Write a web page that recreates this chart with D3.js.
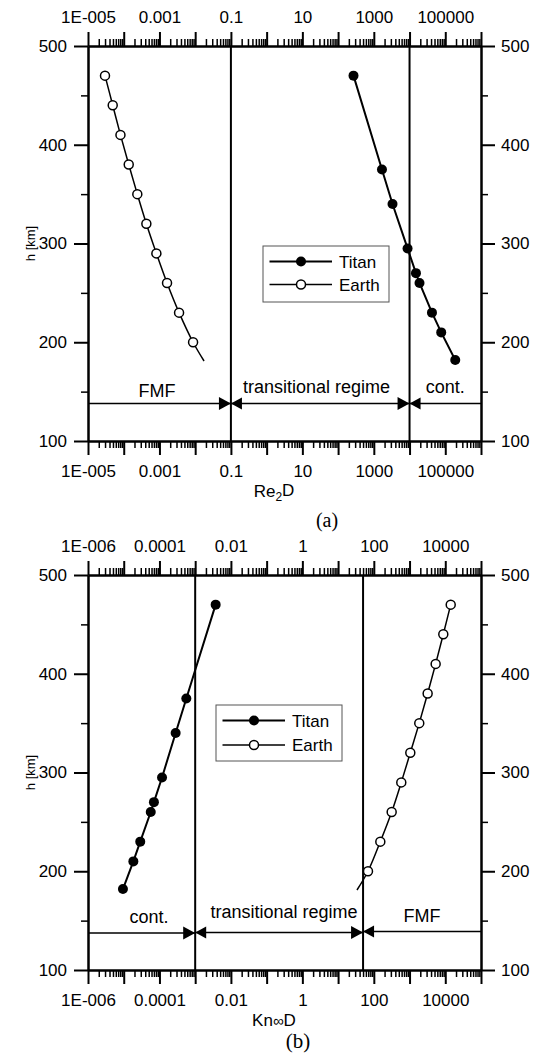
<!DOCTYPE html>
<html>
<head>
<meta charset="utf-8">
<script src="https://cdn.jsdelivr.net/npm/d3@7"></script>
<style>
  body { margin: 0; background: #fff; }
  svg { display: block; }
  .axis path, .axis line { stroke: #000; stroke-width: 2; }
  .axis.minor line { stroke-width: 1.5; }
  .axis text { fill: #000; }
</style>
</head>
<body>
<svg id="chart"></svg>
<script>
const SVG_WIDTH = 535;
const SVG_HEIGHT = 1056;
const FONT = '"Liberation Sans", Arial, sans-serif';

// heights of the points [km]
const TITAN_H = [470, 375, 340, 295, 270, 260, 230, 210, 182];
const EARTH_H = [470, 440, 410, 380, 350, 320, 290, 260, 230, 200];

// panel (a): Re2D
const TITAN_RE = [270, 1690, 3340, 8800, 15100, 19000, 42400, 77000, 190000];
const EARTH_RE = [2.99e-5, 4.92e-5, 8.1e-5, 1.38e-4, 2.4e-4, 4.3e-4, 8.2e-4, 1.63e-3, 3.54e-3, 8.73e-3];
const EARTH_RE_TAIL = { v: 0.0177, h: 181 };
const RE_BOUNDS = [0.1, 1e4];
const RE_TICKS = [1e-5, 1e-3, 0.1, 10, 1e3, 1e5];
const RE_TICK_LABELS = ['1E-005', '0.001', '0.1', '10', '1000', '100000'];
const RE_REGIMES = ['FMF', 'transitional regime', 'cont.'];

// panel (b): Kn∞D
const TITAN_KN = [3.74e-3, 5.65e-4, 2.84e-4, 1.18e-4, 7.0e-5, 5.7e-5, 2.9e-5, 1.86e-5, 9.5e-6];
const EARTH_KN = [1.42e4, 8.8e3, 5.38e3, 3.21e3, 1.87e3, 1.05e3, 587, 316, 152, 68.7];
const EARTH_KN_TAIL = { v: 33.8, h: 181 };
const KN_BOUNDS = [1e-3, 50];
const KN_TICKS = [1e-6, 1e-4, 0.01, 1, 100, 1e4];
const KN_TICK_LABELS = ['1E-006', '0.0001', '0.01', '1', '100', '10000'];
const KN_REGIMES = ['cont.', 'transitional regime', 'FMF'];

const H_TICKS = [100, 200, 300, 400, 500];
const H_MINOR = [150, 250, 350, 450];
const SERIES = ['Titan', 'Earth'];

const svg = d3.select('#chart')
	.attr('width', SVG_WIDTH)
	.attr('height', SVG_HEIGHT)
	.style('font-family', FONT);

svg.append('rect').attr('width', SVG_WIDTH).attr('height', SVG_HEIGHT).attr('fill', '#fff');

function logTicks(domain) {
	const lo = Math.round(Math.log10(domain[0])), hi = Math.round(Math.log10(domain[1]));
	const majors = [], minors = [];
	for (let e = lo; e <= hi; e++) {
		majors.push(Math.pow(10, e));
		if (e < hi) for (let k = 2; k < 10; k++) minors.push(k * Math.pow(10, e));
	}
	return { majors: majors, minors: minors };
}

function styleText(sel) {
	sel.attr('font-size', 17).attr('font-family', FONT);
}

function drawPanel(cfg) {
	const x = d3.scaleLog().domain(cfg.xDomain).range([88, 481]);
	const y = d3.scaleLinear().domain([100, 500]).range([cfg.bottom, cfg.top]);
	const g = svg.append('g');

	const lt = logTicks(cfg.xDomain);
	const label = v => {
		const i = cfg.ticks.findIndex(t => Math.abs(Math.log10(t) - Math.log10(v)) < 1e-9);
		return i < 0 ? '' : cfg.tickLabels[i];
	};

	// X axes, top and bottom
	g.append('g').attr('class', 'axis minor')
		.attr('transform', 'translate(0,' + cfg.top + ')')
		.call(d3.axisTop(x).tickValues(lt.minors).tickSize(7).tickSizeOuter(0).tickFormat(''));
	g.append('g').attr('class', 'axis')
		.attr('transform', 'translate(0,' + cfg.top + ')')
		.call(d3.axisTop(x).tickValues(lt.majors).tickSize(14).tickSizeOuter(0).tickPadding(9).tickFormat(label))
		.call(styleText);
	g.append('g').attr('class', 'axis minor')
		.attr('transform', 'translate(0,' + cfg.bottom + ')')
		.call(d3.axisBottom(x).tickValues(lt.minors).tickSize(7).tickSizeOuter(0).tickFormat(''));
	g.append('g').attr('class', 'axis')
		.attr('transform', 'translate(0,' + cfg.bottom + ')')
		.call(d3.axisBottom(x).tickValues(lt.majors).tickSize(14).tickSizeOuter(0).tickPadding(10).tickFormat(label))
		.call(styleText);

	// Y axes, left and right
	g.append('g').attr('class', 'axis')
		.attr('transform', 'translate(88,0)')
		.call(d3.axisLeft(y).tickValues(H_TICKS).tickSize(14).tickSizeOuter(0).tickPadding(7))
		.call(styleText);
	g.append('g').attr('class', 'axis minor')
		.attr('transform', 'translate(88,0)')
		.call(d3.axisLeft(y).tickValues(H_MINOR).tickSize(7).tickSizeOuter(0).tickFormat(''));
	g.append('g').attr('class', 'axis')
		.attr('transform', 'translate(481,0)')
		.call(d3.axisRight(y).tickValues(H_TICKS).tickSize(14).tickSizeOuter(0).tickPadding(6))
		.call(styleText);
	g.append('g').attr('class', 'axis minor')
		.attr('transform', 'translate(481,0)')
		.call(d3.axisRight(y).tickValues(H_MINOR).tickSize(7).tickSizeOuter(0).tickFormat(''));

	// regime boundaries
	g.selectAll('.bound').data(cfg.bounds).enter().append('line')
		.attr('x1', d => x(d)).attr('x2', d => x(d))
		.attr('y1', cfg.top).attr('y2', cfg.bottom)
		.attr('stroke', '#000').attr('stroke-width', 2);

	// regime arrows
	const edges = [cfg.xDomain[0]].concat(cfg.bounds, [cfg.xDomain[1]]);
	cfg.arrowH.forEach((h, i) => {
		g.append('line')
			.attr('x1', x(edges[i])).attr('x2', x(edges[i + 1]))
			.attr('y1', y(h)).attr('y2', y(h))
			.attr('stroke', '#000').attr('stroke-width', 1.5);
	});
	cfg.bounds.forEach((b, i) => {
		const bx = x(b);
		const yl = y(cfg.arrowH[i]), yr = y(cfg.arrowH[i + 1]);
		g.append('path')
			.attr('d', 'M' + bx + ',' + yl + 'L' + (bx - 12) + ',' + (yl - 6.5) + 'L' + (bx - 12) + ',' + (yl + 6.5) + 'Z')
			.attr('fill', '#000');
		g.append('path')
			.attr('d', 'M' + bx + ',' + yr + 'L' + (bx + 11) + ',' + (yr - 6) + 'L' + (bx + 11) + ',' + (yr + 6) + 'Z')
			.attr('fill', '#000');
	});
	cfg.regimes.forEach((t, i) => {
		g.append('text')
			.attr('x', x(cfg.regimePos[i][0])).attr('y', y(cfg.regimePos[i][1]))
			.attr('text-anchor', 'middle').attr('font-size', 18)
			.text(t);
	});

	// data
	const titan = cfg.titan.map((v, i) => ({ v: v, h: TITAN_H[i] }));
	const earth = cfg.earth.map((v, i) => ({ v: v, h: EARTH_H[i] }));
	const line = d3.line().x(d => x(d.v)).y(d => y(d.h));

	g.append('path')
		.attr('d', line.curve(d3.curveLinear)(titan))
		.attr('fill', 'none').attr('stroke', '#000').attr('stroke-width', 2);
	g.append('path')
		.attr('d', line.curve(d3.curveCatmullRom)(earth.concat([cfg.earthTail])))
		.attr('fill', 'none').attr('stroke', '#000').attr('stroke-width', 1.5);

	g.selectAll('.titan').data(titan).enter().append('circle')
		.attr('cx', d => x(d.v)).attr('cy', d => y(d.h)).attr('r', 5)
		.attr('fill', '#000');
	g.selectAll('.earth').data(earth).enter().append('circle')
		.attr('cx', d => x(d.v)).attr('cy', d => y(d.h)).attr('r', 4.5)
		.attr('fill', '#fff').attr('stroke', '#000').attr('stroke-width', 1.5);

	// legend
	const L = cfg.legend;
	g.append('rect')
		.attr('x', L.x).attr('y', L.y).attr('width', 126).attr('height', 56)
		.attr('fill', '#fff').attr('stroke', '#555').attr('stroke-width', 1);
	SERIES.forEach((s, i) => {
		const ly = L.y + 15.5 + i * L.gap;
		g.append('line')
			.attr('x1', L.x + 6.5).attr('x2', L.x + 69).attr('y1', ly).attr('y2', ly)
			.attr('stroke', '#000').attr('stroke-width', i === 0 ? 2 : 1.5);
		g.append('circle')
			.attr('cx', L.x + 38).attr('cy', ly).attr('r', i === 0 ? 5 : 4.5)
			.attr('fill', i === 0 ? '#000' : '#fff')
			.attr('stroke', '#000').attr('stroke-width', i === 0 ? 0 : 1.5);
		g.append('text')
			.attr('x', L.x + 76).attr('y', ly).attr('dy', '0.36em')
			.attr('font-size', 17).text(s);
	});

	// titles
	g.append('text')
		.attr('transform', 'translate(35,' + (cfg.top + cfg.bottom) / 2 + ') rotate(-90)')
		.attr('text-anchor', 'middle').attr('font-size', 13)
		.text('h [km]');
	const xt = g.append('text')
		.attr('x', 274).attr('y', cfg.bottom + 56)
		.attr('text-anchor', 'middle').attr('font-size', 17);
	cfg.xTitle(xt);
	g.append('text')
		.attr('x', cfg.tag[0]).attr('y', cfg.tag[1])
		.attr('text-anchor', 'middle')
		.attr('font-family', '"Liberation Serif", "Times New Roman", serif')
		.attr('font-size', cfg.tag[2])
		.text(cfg.tagText);
}

drawPanel({
	top: 46, bottom: 441,
	xDomain: [1e-5, 1e6],
	ticks: RE_TICKS, tickLabels: RE_TICK_LABELS,
	bounds: RE_BOUNDS,
	arrowH: [138, 138, 138],
	regimes: RE_REGIMES,
	regimePos: [[8.5e-4, 144.5], [24.8, 148.5], [1e5, 148.5]],
	titan: TITAN_RE, earth: EARTH_RE, earthTail: EARTH_RE_TAIL,
	legend: { x: 263, y: 246, gap: 23 },
	xTitle: t => {
		t.append('tspan').text('Re');
		t.append('tspan').attr('font-size', 12).attr('dy', '0.3em').text('2');
		t.append('tspan').attr('dy', '-0.3em').text('D');
	},
	tag: [327, 527, 20], tagText: '(a)'
});

drawPanel({
	top: 575, bottom: 970,
	xDomain: [1e-6, 1e5],
	ticks: KN_TICKS, tickLabels: KN_TICK_LABELS,
	bounds: KN_BOUNDS,
	arrowH: [137.5, 138, 139],
	regimes: KN_REGIMES,
	regimePos: [[5.1e-5, 147.6], [0.306, 152.6], [2230, 149]],
	titan: TITAN_KN, earth: EARTH_KN, earthTail: EARTH_KN_TAIL,
	legend: { x: 216, y: 705, gap: 24.5 },
	xTitle: t => {
		t.append('tspan').text('Kn');
		t.append('tspan').attr('font-size', 15).text('∞');
		t.append('tspan').text('D');
	},
	tag: [298, 1048, 21], tagText: '(b)'
});
</script>
</body>
</html>
